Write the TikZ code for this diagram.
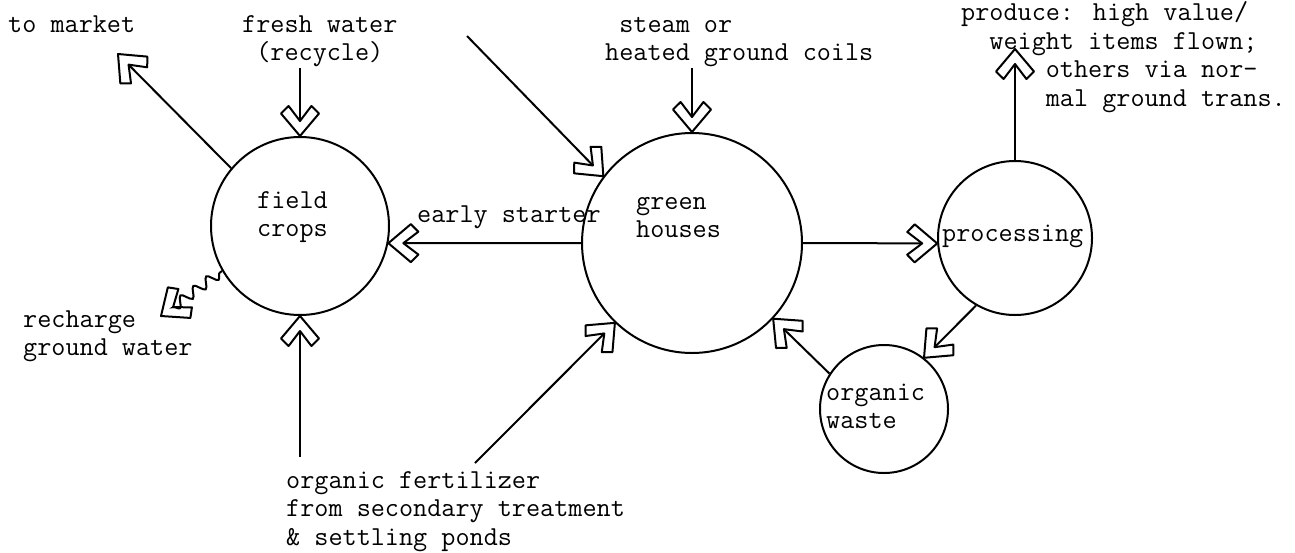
\documentclass[tikz,border=0pt]{standalone}
\usepackage{fontspec}
\usepackage{tikz}
\usetikzlibrary{arrows.meta,decorations.pathmorphing}

% hollow chevron head, shaft stops in the notch
\pgfdeclarearrow{
  name = Chevron,
  parameters = {\the\pgfarrowlength,\the\pgfarrowwidth},
  setup code = {
    \pgfarrowssettipend{0pt}
    \pgfarrowssetlineend{-.5\pgfarrowlength}
    \pgfarrowssetbackend{-\pgfarrowlength}
    \pgfarrowssetvisualbackend{-.5\pgfarrowlength}
    \pgfarrowssavethe\pgfarrowlength
    \pgfarrowssavethe\pgfarrowwidth
  },
  drawing code = {
    \pgfsetroundjoin
    \pgfpathmoveto{\pgfpointorigin}
    \pgfpathlineto{\pgfpoint{-.75\pgfarrowlength}{.5\pgfarrowwidth}}
    \pgfpathlineto{\pgfpoint{-\pgfarrowlength}{.3\pgfarrowwidth}}
    \pgfpathlineto{\pgfpoint{-.5\pgfarrowlength}{0pt}}
    \pgfpathlineto{\pgfpoint{-\pgfarrowlength}{-.3\pgfarrowwidth}}
    \pgfpathlineto{\pgfpoint{-.75\pgfarrowlength}{-.5\pgfarrowwidth}}
    \pgfpathclose
    \pgfusepathqstroke
  },
  defaults = {length = 30pt, width = 38pt}
}

\tikzset{
  blob/.style={circle, draw, line width=2pt, inner sep=0pt},
  lbl/.style={font=\ttfamily\fontsize{27.4}{28.5}\selectfont, align=left,
              inner sep=0pt, anchor=base west},
  flow/.style={-{Chevron[length=30pt,width=38pt]}, line width=2pt},
}

\begin{document}
\begin{tikzpicture}[x=1pt,y=-1pt]
\useasboundingbox (0,0) rectangle (1295,552);
\node[blob, minimum size=178pt] (fc) at (300,226) {};
\node[blob, minimum size=220pt] (gh) at (692,243) {};
\node[blob, minimum size=154pt] (proc) at (1015,238) {};
\node[blob, minimum size=128pt] (ow) at (884,409) {};

% multi-line labels sit on their last baseline
\node[lbl] (fclbl) at (257,236.5) {field\\crops};
\node[lbl] (ghlbl) at (636,237.5) {green\\houses};
\node[lbl] (proclbl) at (942,241) {processing};
\node[lbl] (owlbl) at (826,428.5) {organic\\waste};
\node[lbl] (market) at (8,32) {to market};
\node[lbl, align=center] (fresh) at (242,60.5) {fresh water\\(recycle)};
\node[lbl] (steam) at (605,60.5) {\hphantom{h}steam or\\heated ground coils};
\node[lbl] (produce) at (961,106) {produce: high value/\\\hphantom{hh}weight items flown;\\
  \hphantom{hhhhhh}others via nor-\\\hphantom{hhhhhh}mal ground trans.};
\node[lbl] (early) at (417,222) {early starter};
\node[lbl] (recharge) at (23,355.5) {recharge\\ground water};
\node[lbl] (fert) at (286,545) {organic fertilizer\\from secondary treatment\\\& settling ponds};

\coordinate (mktend) at (118,54);
\coordinate (freshtop) at (300,68);
\coordinate (diagtop) at (467,36);
\coordinate (steamtop) at (692,68);
\coordinate (prodend) at (1015,49);
\coordinate (rchend) at (161,316);
\coordinate (fertleft) at (300,457);
\coordinate (fertright) at (475,463);

\draw[flow] (fc.140) -- (mktend);
\draw[flow] (freshtop) -- (fc.north);
\draw[flow] (diagtop) -- (gh.143);
\draw[flow] (steamtop) -- (gh.north);
\draw[flow] (gh.west) -- (fc.349);
\draw[flow] (gh.east) -- (proc.184);
\draw[flow] (proc.north) -- (prodend);
\draw[flow] (proc.240) -- (ow.52);
\draw[flow] (ow.147) -- (gh.317);
\draw[flow, decorate, decoration={snake, amplitude=5pt, segment length=16pt,
  pre length=3pt, post length=8pt}] (fc.210) -- (rchend);
\draw[flow] (fertleft) -- (fc.south);
\draw[flow] (fertright) -- (gh.226);
\end{tikzpicture}
\end{document}
